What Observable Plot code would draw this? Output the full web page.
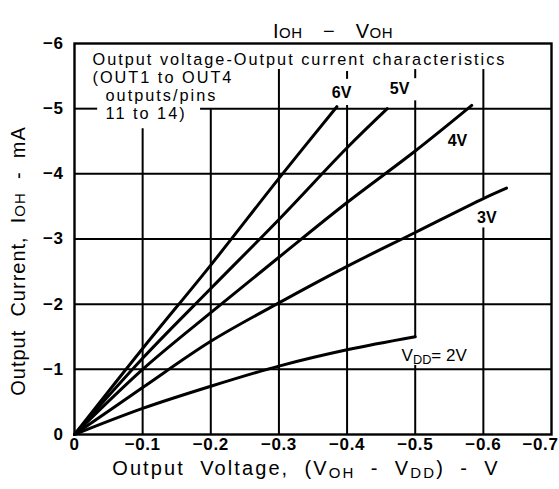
<!DOCTYPE html>
<html><head><meta charset="utf-8">
<script src="https://cdn.jsdelivr.net/npm/d3@7"></script>
<script src="https://cdn.jsdelivr.net/npm/@observablehq/plot@0.6"></script>
<style>
body{margin:0;background:#fff}
.note-block text{letter-spacing:2.0px}
.x-title text{letter-spacing:2.1px}
.y-title text{letter-spacing:1.0px}
.title-text text{letter-spacing:0.5px}
.tick-lab text{letter-spacing:0.6px}
</style>
</head><body><div id="chart"></div>
<script>
// ---- data (output voltage V, output current mA) ----
const vddNames = ["2V", "3V", "4V", "5V", "6V"];
const voltages2V = [0, -0.1, -0.2, -0.3, -0.4, -0.5];
const currents2V = [0, -0.40, -0.74, -1.05, -1.30, -1.50];
const voltages3V = [0, -0.1, -0.2, -0.3, -0.4, -0.5, -0.6, -0.634];
const currents3V = [0, -0.72, -1.43, -2.02, -2.58, -3.10, -3.62, -3.78];
const voltages4V = [0, -0.1, -0.2, -0.3, -0.4, -0.5, -0.583];
const currents4V = [0, -1.00, -1.87, -2.72, -3.56, -4.35, -5.05];
const voltages5V = [0, -0.1, -0.2, -0.3, -0.4, -0.459];
const currents5V = [0, -1.17, -2.24, -3.30, -4.40, -5.00];
const voltages6V = [0, -0.1, -0.2, -0.3, -0.385];
const currents6V = [0, -1.32, -2.60, -3.93, -5.03];

// tick values / labels
const xTicks = [0, -0.1, -0.2, -0.3, -0.4, -0.5, -0.6, -0.7];
const yTicks = [0, -1, -2, -3, -4, -5, -6];

// curve labels (data space)
const curveLabelText = ["V_{DD}= 2V", "3V", "4V", "5V", "6V"];
const curveLabelX = [-0.48, -0.605, -0.562, -0.477, -0.392];
const curveLabelY = [-1.21, -3.33, -4.51, -5.31, -5.24];

// grid segments (interrupted where the printed labels sit)
const vGridX    = [-0.1, -0.2, -0.3, -0.4, -0.4, -0.5, -0.5, -0.5, -0.6, -0.6];
const vGridFrom = [0, 0, 0, 0, -5.45, 0, -1.49, -5.46, 0, -3.63];
const vGridTo   = [-4.69, -5.0, -5.6, -5.05, -5.57, -1.06, -5.12, -5.6, -3.17, -5.6];
const hGridY    = [-1, -2, -3, -4, -5, -5];
const hGridFrom = [0, 0, 0, 0, 0, -0.185];
const hGridTo   = [-0.7, -0.7, -0.7, -0.7, -0.034, -0.7];

const titleText = "I_[OH]\u2003\u2212\u2003V_[OH]";
const xTitle = "Output  Voltage,  (V_{OH}  -  V_{DD})  -  V";
const yTitle = "Output  Current,  I_[OH]  -  mA";
const noteLines = ["Output voltage-Output current characteristics", "(OUT1 to OUT4", "outputs/pins", "11 to 14)"];
const noteIndent = [0, 0, 1, 1];

// ---- build tables ----
const seriesX = [voltages2V, voltages3V, voltages4V, voltages5V, voltages6V];
const seriesY = [currents2V, currents3V, currents4V, currents5V, currents6V];
const curves = vddNames.flatMap((name, k) => seriesX[k].map((v, j) => ({vdd: name, v, i: seriesY[k][j]})));
const vGrid = vGridX.map((x, k) => ({x, y1: vGridFrom[k], y2: vGridTo[k]}));
const hGrid = hGridY.map((y, k) => ({y, x1: hGridFrom[k], x2: hGridTo[k]}));
const labels = curveLabelText.map((t, k) => ({t, x: curveLabelX[k], y: curveLabelY[k]}));
const noteText = noteLines.map((l, k) => (noteIndent[k] ? "\u00a0\u00a0" : "") + l).join("\n");

const fmt = d => d === 0 ? "0" : "\u2212" + Math.abs(d).toString();
const plain = "'Liberation Sans',Arial,sans-serif";

const chart = Plot.plot({
  width: 559, height: 489,
  marginLeft: 74, marginRight: 8, marginTop: 43, marginBottom: 55,
  x: {domain: [0, -0.7], axis: null},
  y: {domain: [0, -6], axis: null},
  style: {fontFamily: plain, background: "#fff", color: "#000"},
  marks: [
    Plot.ruleX(vGrid, {x: "x", y1: "y1", y2: "y2", stroke: "#000", strokeWidth: 2}),
    Plot.ruleY(hGrid, {y: "y", x1: "x1", x2: "x2", stroke: "#000", strokeWidth: 2}),
    Plot.frame({stroke: "#000", strokeWidth: 2.4}),
    Plot.line(curves, {x: "v", y: "i", z: "vdd", stroke: "#000", strokeWidth: 3, curve: "catmull-rom"}),
    // x tick labels
    Plot.text(xTicks.slice(0, -1), {x: d => d, frameAnchor: "bottom", dy: 15, text: fmt, className: "tick-lab",
      fontWeight: "bold", fontSize: 17}),
    Plot.text(xTicks.slice(-1), {x: d => d, frameAnchor: "bottom", dy: 15, dx: 7, textAnchor: "end", text: fmt,
      className: "tick-lab", fontWeight: "bold", fontSize: 17}),
    // y tick labels
    Plot.text(yTicks, {y: d => d, frameAnchor: "left", dx: -11, textAnchor: "end", text: fmt, className: "tick-lab",
      fontWeight: "bold", fontSize: 17}),
    // curve labels
    Plot.text(labels.slice(1), {x: "x", y: "y", text: "t", fontWeight: "bold", fontSize: 16}),
    Plot.text(labels.slice(0, 1), {x: "x", y: "y", text: "t", textAnchor: "start", fontSize: 17}),
    // annotation block
    Plot.text([noteText], {frameAnchor: "top-left", dx: 18, dy: 9, lineAnchor: "top", lineHeight: 1.1,
      text: d => d, fontSize: 16.3, textAnchor: "start", className: "note-block"}),
    // title and axis titles
    Plot.text([titleText], {frameAnchor: "top", dx: 20, dy: -20, text: d => d, fontSize: 20, textAnchor: "middle",
      className: "title-text"}),
    Plot.text([xTitle], {frameAnchor: "bottom", dx: -7, dy: 40, text: d => d, fontSize: 20, textAnchor: "middle",
      className: "x-title"}),
    Plot.text([yTitle], {frameAnchor: "left", dx: -56, dy: 22, rotate: -90, text: d => d, fontSize: 20,
      textAnchor: "middle", className: "y-title"})
  ]
});

// render _{..} as lowered small text and _[..] as small text on baseline
function applySubs(el) {
  const s = el.textContent;
  if (!/_[\{\[]/.test(s)) return;
  const parts = s.split(/(_\{[^}]*\}|_\[[^\]]*\])/);
  while (el.firstChild) el.removeChild(el.firstChild);
  let shifted = 0;
  for (const p of parts) {
    if (!p) continue;
    const t = document.createElementNS("http://www.w3.org/2000/svg", "tspan");
    t.style.whiteSpace = "pre";
    if (p.startsWith("_{") || p.startsWith("_[")) {
      t.textContent = p.slice(2, -1);
      t.setAttribute("font-size", "75%");
      const want = p.startsWith("_{") ? 3 : 0;
      if (want !== shifted) { t.setAttribute("dy", want - shifted); shifted = want; }
    } else {
      t.textContent = p;
      if (shifted) { t.setAttribute("dy", -shifted); shifted = 0; }
    }
    el.appendChild(t);
  }
}
d3.select(chart).selectAll("text").each(function() {
  this.style.whiteSpace = "pre";
  applySubs(this);
});
d3.select(chart).selectAll("tspan").each(function() { this.style.whiteSpace = "pre"; });
document.getElementById("chart").appendChild(chart);
</script>
</body></html>
